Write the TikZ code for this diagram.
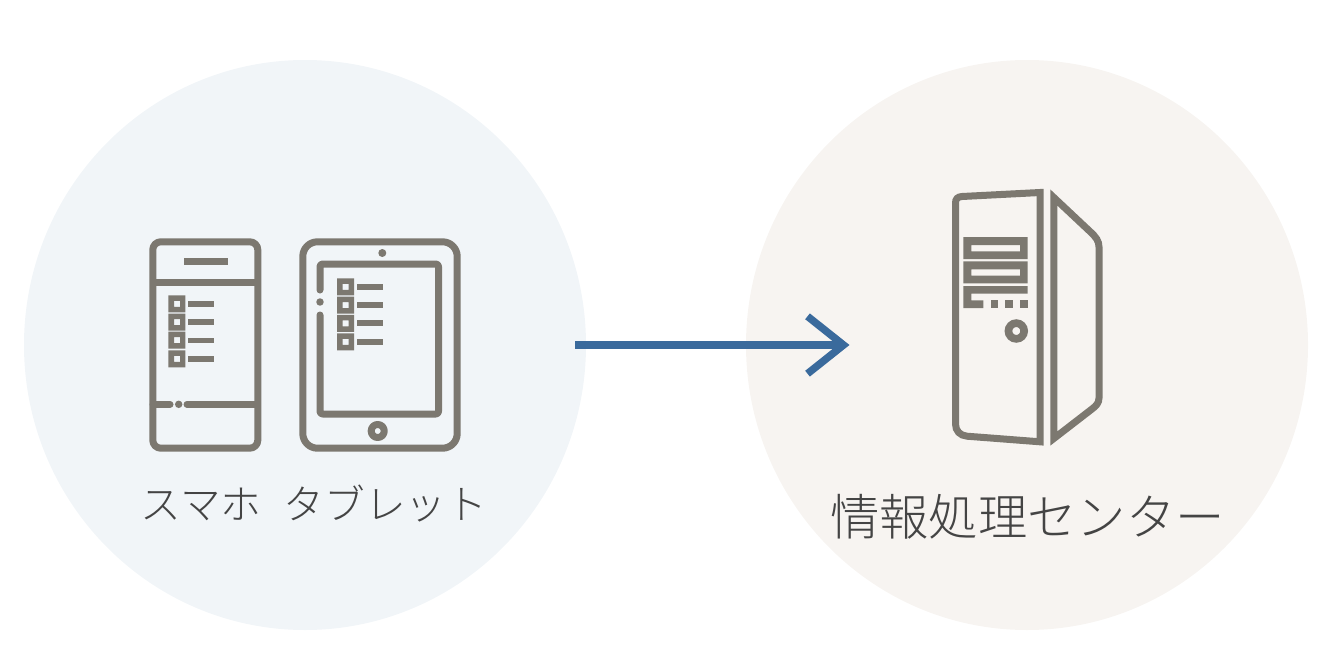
\documentclass[tikz,border=0pt]{standalone}
\usepackage{fontspec}
\setmainfont{Noto Sans CJK JP Light}
\usetikzlibrary{arrows.meta}
\definecolor{bgleft}{HTML}{F1F5F8}
\definecolor{bgright}{HTML}{F7F4F1}
\definecolor{icon}{HTML}{7C7870}
\definecolor{arrowblue}{HTML}{3A6A9C}
\definecolor{labeltext}{HTML}{444444}
\tikzset{
  iconline/.style={draw=icon,line width=5.25pt,line join=round},
  label/.style={text=labeltext,inner sep=0pt,anchor=center},
}
\begin{document}
\begin{tikzpicture}[x=0.75pt,y=-0.75pt]
\useasboundingbox (0,0) rectangle (1344,660);
% background circles
\fill[bgleft] (305,345) ellipse [x radius=210.75pt,y radius=213.75pt];
\fill[bgright] (1027,345) ellipse [x radius=210.75pt,y radius=213.75pt];

% phone
\draw[iconline,rounded corners=6pt] (152.8,241.8) rectangle (257.8,448.2);
\draw[iconline] (152.8,282.3) -- (257.8,282.3);
\fill[icon] (184,258) rectangle (228,265);
\foreach \y/\ly in {295.3/304,313.5/322,331.7/340.3,350.3/358.7}{
  \fill[icon,even odd rule] (168.3,\y) rectangle ++(17,17) (174,\y+5.5) rectangle ++(6,6);
  \fill[icon] (188,\ly-2.8) rectangle (214,\ly+2.8);
}
\draw[iconline,line cap=round] (153,404.3) -- (170,404.3);
\fill[icon] (178.7,404.3) circle [radius=2.8pt];
\draw[iconline,line cap=round] (187,404.3) -- (257,404.3);

% tablet
\draw[iconline,rounded corners=11pt] (302.8,241.8) rectangle (457.2,448.2);
\fill[icon] (382.3,253) circle [radius=3pt];
\draw[iconline,line cap=round,rounded corners=2pt] (320,290) -- (320,264) -- (438.5,264) -- (438.5,414) -- (320,414) -- (320,315);
\fill[icon] (320,302) circle [radius=2.8pt];
\draw[iconline] (377.7,431) circle [radius=4.9pt];
\foreach \y/\ly in {278.3/287,296.5/305,314.8/323,333.3/341.7}{
  \fill[icon,even odd rule] (337,\y) rectangle ++(17,17) (342.5,\y+5.5) rectangle ++(6,6);
  \fill[icon] (356.7,\ly-2.8) rectangle (383,\ly+2.8);
}

% server body
\draw[iconline,line join=miter,miter limit=4]
  (1040,192.5) -- (962,196.5) .. controls (957.5,196.8) and (955.5,199) .. (955.5,203)
  -- (955.5,424) .. controls (955.5,431) and (960,435.5) .. (967,436.2) -- (1040,441.8) -- cycle;
% server door
\draw[iconline,line join=miter,miter limit=6]
  (1053.8,197.5) -- (1090,231.5) .. controls (1096,237) and (1099,241) .. (1099,247)
  -- (1099,398) .. controls (1099,403) and (1096,406) .. (1092,409)
  -- (1053.8,438.5) -- cycle;
% drive bays
\fill[icon,even odd rule] (963.3,237) rectangle (1027.7,259) (971.3,245) rectangle (1020,251.3);
\fill[icon,even odd rule] (963.3,261.3) rectangle (1027.7,283.3) (971.3,269.3) rectangle (1020,275.7);
\fill[icon] (963.3,286) -- (1027.7,286) -- (1027.7,293.7) -- (971.3,293.7) -- (971.3,300.3) -- (983.3,300.3) -- (983.3,308) -- (963.3,308) -- cycle;
\fill[icon] (991,300.3) rectangle (997.7,308);
\fill[icon] (1005.3,300.3) rectangle (1012.7,308);
\fill[icon] (1020,300.3) rectangle (1027.7,308);
\draw[icon,line width=5.75pt] (1016.3,331) circle [radius=5.9pt];

% arrow
\coordinate (arrowstart) at (575,345);
\coordinate (arrowend) at (849.5,345);
\draw[draw=arrowblue,line width=5.6pt,-{Straight Barb[length=27pt,width=43pt,line width=5.6pt,sharp]}] (arrowstart) -- (arrowend);

% labels
\node[label,font=\fontsize{30.5pt}{30.5pt}\selectfont] (devices) at (314,504) {スマホ\hspace{0.55em}タブレット};
\node[label,font=\fontsize{37pt}{37pt}\selectfont] (center) at (1027.5,517) {情報処理センター};
\end{tikzpicture}
\end{document}
